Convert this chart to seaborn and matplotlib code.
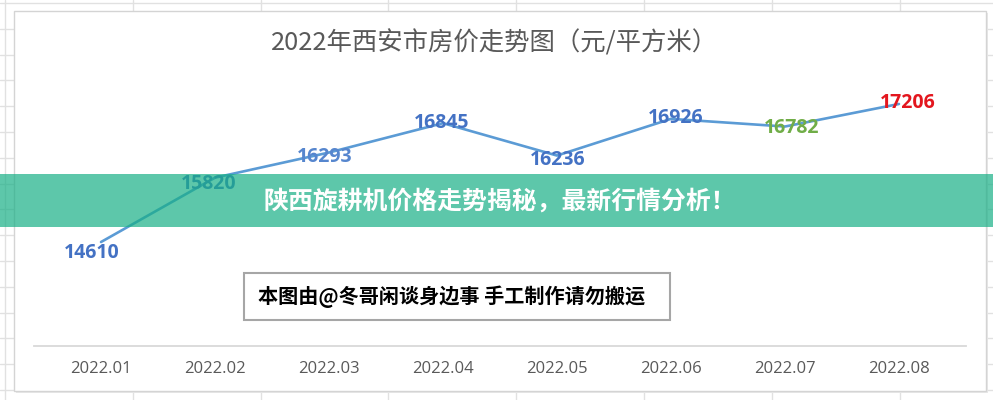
import numpy as np
import pandas as pd
import matplotlib.pyplot as plt
import seaborn as sns
from matplotlib.patches import Rectangle

# data
months = ["2022.01", "2022.02", "2022.03", "2022.04",
          "2022.05", "2022.06", "2022.07", "2022.08"]
prices = [14610, 15820, 16293, 16845, 16236, 16926, 16782, 17206]
label_colors = ["#4472C4", "#4472C4", "#5686CE", "#4472C4",
                "#4472C4", "#4472C4", "#70AD47", "#E3161E"]

title = "2022年西安市房价走势图（元/平方米）"
banner = "陕西旋耕机价格走势揭秘，最新行情分析！"
note = "本图由@冬哥闲谈身边事 手工制作请勿搬运"

# label nudges in pixels (dx, baseline below the point)
label_nudge = [(-9, 16), (-6, 11), (-4, 9.5), (-1, 5),
               (1, 9.5), (5, 4), (7, 6.5), (9, 4)]

sns.set_theme(style="white")
plt.rcParams["font.family"] = ["Noto Sans CJK SC", "DejaVu Sans"]

W, H = 993, 400
fig = plt.figure(figsize=(W / 100, H / 100), dpi=100)
fig.patch.set_facecolor("white")

# ==========================================================
# spreadsheet background + chart frame (pixel coordinates)
# ==========================================================
bg = fig.add_axes([0, 0, 1, 1], zorder=-1)
bg.set_xlim(0, W)
bg.set_ylim(H, 0)
bg.axis("off")
for x in np.arange(5, W, 127.8):
    bg.axvline(x, color="#E1E1E1", lw=1, zorder=1)
for y in np.arange(3, H, 25.8):
    bg.axhline(y, color="#E1E1E1", lw=1, zorder=1)
bg.add_patch(Rectangle((16, 13), 972, 380, facecolor="#E8E8E8",
                       edgecolor="none", zorder=3))
bg.add_patch(Rectangle((14, 11), 972, 380, facecolor="white",
                       edgecolor="#D4D4D4", lw=1, zorder=4))

# ==========================================================
# line chart
# ==========================================================
ax = fig.add_axes([34 / W, (H - 346) / H, 932 / W, 266 / H], zorder=0)
ax.patch.set_alpha(0)
pos = np.arange(len(months))
sns.lineplot(x=pos, y=prices, ax=ax, color="#5B9BD5", lw=1.9, sort=False)
ax.set_xlim(-0.588, 7.588)
ax.set_ylim(12654, 17657)
ax.set_xticks(pos)
ax.set_xticklabels(months, fontfamily="Open Sans", fontsize=12, color="#595959")
ax.tick_params(axis="x", length=0, pad=11)
ax.set_yticks([])
ax.set_xlabel("")
ax.set_ylabel("")
for side in ["top", "left", "right"]:
    ax.spines[side].set_visible(False)
ax.spines["bottom"].set_color("#D9D9D9")
ax.spines["bottom"].set_linewidth(1.3)

for i, v in enumerate(prices):
    dx, dy = label_nudge[i]
    ax.annotate(str(v), xy=(pos[i], v), xytext=(dx, -dy), textcoords="offset pixels",
                ha="center", va="baseline", fontfamily="Open Sans", fontweight="bold",
                fontsize=14, color=label_colors[i])

fig.text(495 / W, 1 - 43 / H, title, ha="center", va="center",
         fontsize=18.3, color="#595959")

# ==========================================================
# overlays: banner and note box
# ==========================================================
ov = fig.add_axes([0, 0, 1, 1], zorder=2)
ov.set_xlim(0, W)
ov.set_ylim(H, 0)
ov.axis("off")
ov.patch.set_alpha(0)
ov.add_patch(Rectangle((0, 174), W, 53, facecolor="#19B086", alpha=0.7, edgecolor="none"))
ov.text(500, 201, banner, ha="center", va="center", fontsize=17.9,
        fontweight="bold", color="white")
ov.add_patch(Rectangle((244, 273), 426, 47, facecolor="white", edgecolor="#A6A6A6", lw=1.5))
ov.text(258, 297, note, ha="left", va="center", fontsize=14.5,
        fontweight="bold", color="black")

fig.savefig("out.png", dpi=100)
